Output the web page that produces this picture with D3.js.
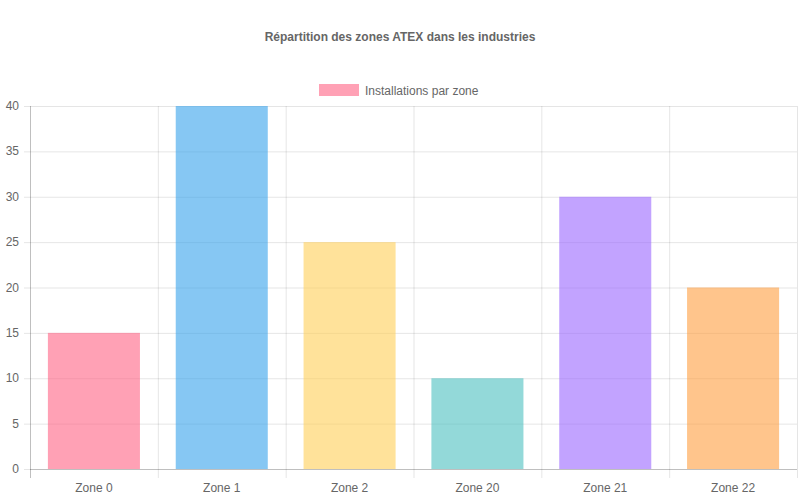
<!DOCTYPE html>
<html><head><meta charset="utf-8">
<script src="https://cdn.jsdelivr.net/npm/d3@7"></script>
<style>body{margin:0;background:#fff}text{font-family:"Liberation Sans",Arial,sans-serif}</style>
</head><body>
<svg id="c" width="800" height="500"></svg>
<script>
const categories=["Zone 0","Zone 1","Zone 2","Zone 20","Zone 21","Zone 22"];
const values=[15,40,25,10,30,20];
const colors=["rgba(255,99,132,0.6)","rgba(54,162,235,0.6)","rgba(255,206,86,0.6)","rgba(75,192,192,0.6)","rgba(153,102,255,0.6)","rgba(255,159,64,0.6)"];
const yTicks=[0,5,10,15,20,25,30,35,40];
const title="Répartition des zones ATEX dans les industries";
const legendLabel="Installations par zone";

const svg=d3.select("#c");
const L=30,R=797,T=106,B=469;
const x=d3.scaleBand().domain(categories).range([L,R]);
const y=d3.scaleLinear().domain([0,40]).range([B,T]);

svg.append("text").attr("x",400).attr("y",41).attr("text-anchor","middle").attr("font-size",12).attr("font-weight","bold").attr("fill","#666").text(title);
svg.append("rect").attr("x",319).attr("y",84).attr("width",40).attr("height",12).attr("fill",colors[0]);
svg.append("text").attr("x",365).attr("y",94.5).attr("font-size",12).attr("fill","#666").text(legendLabel);

const g=svg.append("g");
yTicks.forEach(t=>{
  g.append("line").attr("x1",L).attr("x2",R).attr("y1",y(t)+0.5).attr("y2",y(t)+0.5).attr("stroke",t===0?"rgba(0,0,0,0.25)":"rgba(0,0,0,0.1)");
  g.append("line").attr("x1",L-6).attr("x2",L).attr("y1",y(t)+0.5).attr("y2",y(t)+0.5).attr("stroke","rgba(0,0,0,0.1)");
  g.append("text").attr("x",L-11).attr("y",y(t)+4).attr("text-anchor","end").attr("font-size",12).attr("fill","#666").text(t);
});
const bounds=categories.map(c=>x(c)).concat([R]);
bounds.forEach((bx,i)=>{
  g.append("line").attr("x1",bx+0.5).attr("x2",bx+0.5).attr("y1",T).attr("y2",B+9).attr("stroke",i===0?"rgba(0,0,0,0.25)":"rgba(0,0,0,0.1)");
});
const bw=x.bandwidth()*0.72;
g.selectAll(".bar").data(values).enter().append("rect")
 .attr("x",(d,i)=>x(categories[i])+(x.bandwidth()-bw)/2).attr("width",bw)
 .attr("y",d=>y(d)).attr("height",d=>B-y(d)).attr("fill",(d,i)=>colors[i]);
categories.forEach(c=>{
  g.append("text").attr("x",x(c)+x.bandwidth()/2).attr("y",492).attr("text-anchor","middle").attr("font-size",12).attr("fill","#666").text(c);
});
</script></body></html>
